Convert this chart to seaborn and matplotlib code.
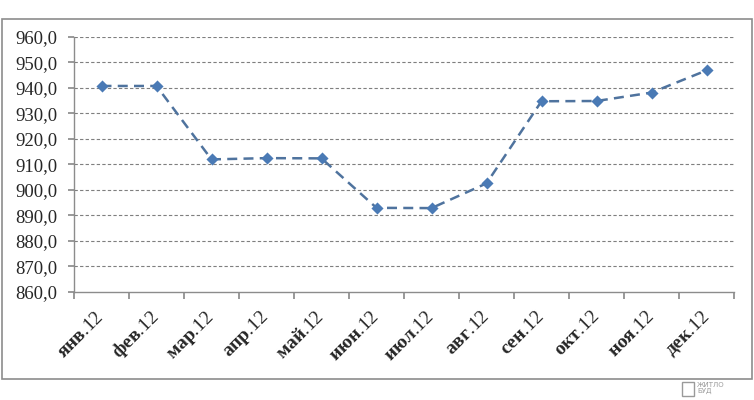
import matplotlib
matplotlib.use("Agg")
import matplotlib.pyplot as plt
import seaborn as sns
import pandas as pd
import numpy as np
from matplotlib.patches import Rectangle

months = ["янв", "фев", "мар", "апр", "май", "июн", "июл", "авг", "сен", "окт", "ноя", "дек"]
year_suffix = ".12"
values = [940.8, 940.8, 912.0, 912.5, 912.4, 893.0, 892.9, 902.6, 934.8, 934.9, 938.2, 946.9]
yticks = [860, 870, 880, 890, 900, 910, 920, 930, 940, 950, 960]

sns.set_theme(style="white")
plt.rcParams['font.family'] = ['Liberation Serif', 'DejaVu Serif']
plt.rcParams['mathtext.fontset'] = 'custom'
plt.rcParams['mathtext.bf'] = 'Liberation Serif:bold'
plt.rcParams['mathtext.rm'] = 'Liberation Serif'
plt.rcParams['mathtext.it'] = 'Liberation Serif:italic'

labels = [r"$\mathbf{" + m + "}$" + year_suffix for m in months]

df = pd.DataFrame({"x": np.arange(len(months)), "y": values})

fig = plt.figure(figsize=(7.54, 4.0), dpi=100)
ax = fig.add_axes([74/754, 108/400, 660/754, 255/400])

fig.patches.append(Rectangle((2/754, 21/400), 750/754, 360/400, transform=fig.transFigure,
                             fill=False, edgecolor='#8c8c8c', linewidth=1.2))

sns.lineplot(data=df, x="x", y="y", ax=ax, color='#4f739e', linewidth=1.8,
             linestyle=(0, (4, 2.5)), zorder=3)
ax.scatter(df["x"], df["y"], marker='D', s=38, color='#4a7ab5', zorder=4, linewidths=0)

ax.set_xlim(-0.5, len(months) - 0.5)
ax.set_ylim(860, 960)
ax.set_yticks(yticks)
ax.set_yticklabels([f"{v:.1f}".replace('.', ',') for v in yticks], fontsize=13.5)
for v in yticks[1:]:
    ax.axhline(v, color='#7f7f7f', linewidth=0.8, linestyle=(0, (3, 2)), zorder=1)

ax.set_xticks(np.arange(-0.5, len(months), 1.0))
ax.set_xticklabels([])
ax.set_xticks(np.arange(len(months)), minor=True)
ax.set_xticklabels(labels, minor=True, rotation=45, ha='right', va='center',
                   rotation_mode='anchor', fontsize=14)
ax.tick_params(axis='x', which='major', length=5, color='#8c8c8c', direction='out', bottom=True)
ax.tick_params(axis='x', which='minor', length=0, pad=16)
ax.tick_params(axis='y', length=4.5, color='#8c8c8c', direction='out', left=True, pad=7.5)

for s in ['top', 'right']:
    ax.spines[s].set_visible(False)
for s in ['left', 'bottom']:
    ax.spines[s].set_color('#8c8c8c')
    ax.spines[s].set_linewidth(1.0)
ax.set_xlabel("")
ax.set_ylabel("")

fig.text(697/754, 1 - 388/400, "ЖИТЛО\nБУД", fontsize=5, color='#9a9a9a',
         va='center', ha='left', family=['DejaVu Sans'], linespacing=0.9)
fig.patches.append(Rectangle((682/754, 1 - 396/400), 12/754, 14/400, transform=fig.transFigure,
                             fill=False, edgecolor='#9a9a9a', linewidth=1))

fig.savefig("out.png", dpi=100)
